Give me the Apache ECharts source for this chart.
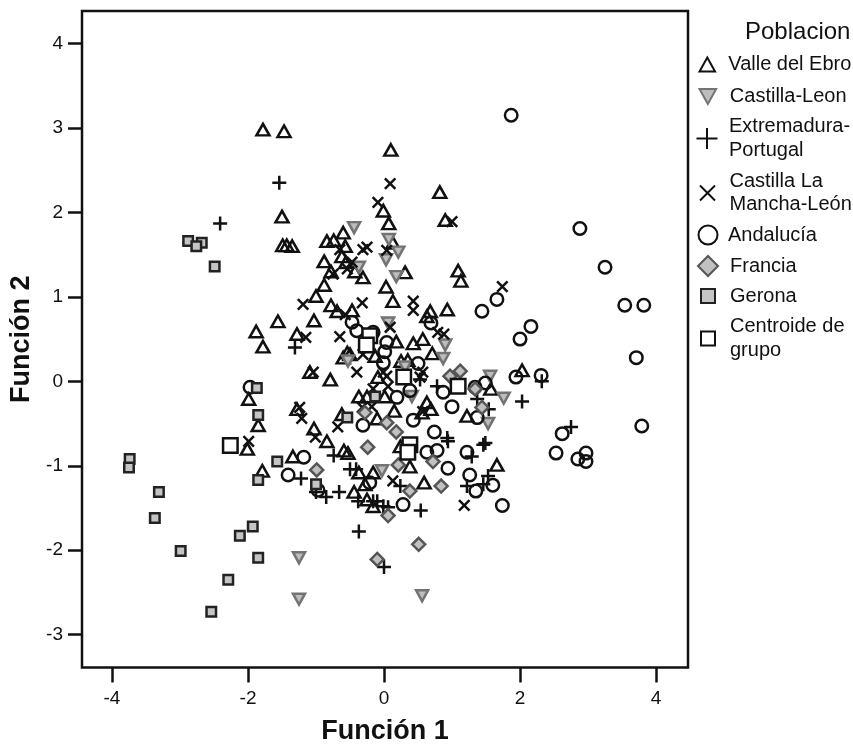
<!DOCTYPE html>
<html><head><meta charset="utf-8">
<style>html,body{margin:0;padding:0;background:#fff}#c{width:853px;height:746px}</style>
<script src="https://cdn.jsdelivr.net/npm/echarts@6/dist/echarts.min.js"></script>
</head><body><div id="c"></div>
<script>
const xTicks=[-4,-2,0,2,4];
const yTicks=[-3,-2,-1,0,1,2,3,4];
const valle=[[-1.78,2.98],[-1.47,2.96],[0.10,2.74],[0.82,2.24],[0.90,1.91],[-1.50,1.95],[-1.49,1.61],[-1.35,1.60],[-1.43,1.61],[-0.60,1.76],[-0.84,1.66],[-0.74,1.67],[-0.57,1.60],[-0.62,1.48],[-0.88,1.42],[-0.78,1.30],[-0.56,1.41],[-0.43,1.30],[-0.31,1.23],[-0.88,1.14],[-1.00,1.01],[-0.78,0.90],[-0.69,0.83],[-0.47,0.84],[-1.56,0.71],[-1.03,0.72],[-1.88,0.59],[-1.78,0.41],[-1.28,0.56],[-0.60,0.28],[-0.50,0.32],[-0.54,0.34],[-1.09,0.11],[-0.79,0.02],[-0.01,2.02],[0.07,1.87],[0.13,1.64],[0.31,1.29],[0.03,1.12],[0.13,0.95],[1.09,1.31],[1.13,1.19],[0.68,0.83],[0.63,0.77],[0.93,0.85],[0.18,0.47],[0.43,0.45],[0.57,0.50],[0.71,0.33],[-0.13,0.30],[0.25,0.24],[0.35,0.25],[-0.09,0.05],[-0.37,-0.18],[1.57,-0.09],[-1.99,-0.21],[-1.85,-0.52],[-2.01,-0.80],[-0.25,-0.18],[0.01,-0.18],[-0.62,-0.39],[-0.10,-0.44],[0.15,-0.35],[0.63,-0.25],[0.69,-0.33],[0.56,-0.37],[1.22,-0.41],[-1.28,-0.33],[-1.03,-0.56],[-0.84,-0.71],[-1.34,-0.89],[-1.79,-1.06],[-0.59,-0.82],[-0.53,-0.85],[-0.37,-1.08],[-0.16,-1.08],[-0.28,-1.22],[-0.44,-1.31],[-0.25,-1.40],[-0.16,-1.48],[0.38,-1.01],[0.24,-0.77],[0.59,-1.20],[1.66,-0.99],[2.03,0.13]];
const castillaLeon=[[-0.44,1.82],[0.07,1.68],[0.21,1.53],[0.03,1.44],[0.18,1.24],[-0.37,1.35],[0.06,0.69],[0.90,0.43],[0.87,0.27],[1.56,0.06],[1.76,-0.20],[0.31,0.17],[1.53,-0.50],[0.41,-0.18],[-0.03,-1.06],[-1.25,-2.09],[-1.25,-2.58],[0.56,-2.54],[-0.53,0.24]];
const extremadura=[[-2.41,1.87],[-1.54,2.35],[-1.31,0.40],[0.78,-0.06],[0.53,0.02],[1.37,-0.21],[1.54,-0.33],[0.93,-0.67],[0.94,-0.71],[1.46,-0.75],[1.49,-0.73],[1.29,-0.89],[1.22,-1.24],[1.53,-1.12],[1.46,-1.22],[-1.22,-1.15],[-0.74,-0.88],[-0.50,-1.04],[-0.41,-1.04],[-1.00,-1.31],[-0.85,-1.37],[-0.66,-1.31],[-0.38,-1.42],[-0.16,-1.42],[-0.10,-1.42],[-0.01,-1.48],[0.06,-1.49],[0.24,-1.24],[0.54,-1.53],[-0.37,-1.78],[0.00,-2.20],[2.03,-0.24],[2.75,-0.54],[2.32,0.00]];
const mancha=[[0.09,2.34],[-0.09,2.12],[1.00,1.89],[1.74,1.12],[-1.19,0.91],[-0.32,0.93],[0.43,0.95],[0.43,0.84],[-0.57,0.79],[0.09,0.64],[-1.15,0.52],[-0.65,0.53],[0.79,0.58],[0.88,0.56],[-0.31,0.32],[-1.04,0.11],[-0.40,0.11],[-0.25,1.59],[-0.31,1.56],[0.04,1.55],[-0.65,1.56],[-0.47,1.41],[-0.54,1.33],[-0.75,1.27],[0.57,0.11],[0.53,0.05],[-0.01,0.11],[0.04,0.06],[0.06,-0.06],[-0.16,-0.09],[-1.24,-0.31],[-1.21,-0.44],[-0.68,-0.54],[-1.01,-0.66],[-0.32,-0.31],[-0.18,-0.30],[0.57,-0.36],[0.13,-1.18],[1.18,-1.47],[-1.99,-0.71]];
const andalucia=[[1.87,3.15],[2.88,1.81],[3.25,1.35],[3.54,0.90],[3.82,0.90],[3.71,0.28],[3.79,-0.53],[2.16,0.65],[2.00,0.50],[1.44,0.83],[1.66,0.97],[1.94,0.05],[2.31,0.07],[2.62,-0.62],[2.53,-0.85],[2.85,-0.92],[2.97,-0.85],[2.97,-0.95],[-0.47,0.70],[-0.40,0.60],[-0.16,0.58],[0.04,0.46],[0.01,0.35],[-0.01,0.22],[0.50,0.21],[0.69,0.69],[0.38,-0.11],[0.19,-0.19],[0.87,-0.13],[1.49,-0.02],[1.34,-0.07],[-1.97,-0.07],[-1.18,-0.90],[-1.41,-1.11],[-0.97,-1.29],[-0.31,-0.52],[1.00,-0.30],[0.43,-0.46],[0.74,-0.60],[1.37,-0.43],[0.78,-0.82],[0.63,-0.84],[1.22,-0.84],[0.94,-1.03],[1.26,-1.11],[1.35,-1.30],[1.60,-1.23],[1.74,-1.47],[0.28,-1.46],[-0.21,-1.20]];
const francia=[[0.97,0.06],[1.12,0.12],[1.34,-0.09],[1.44,-0.31],[-0.28,-0.37],[0.04,-0.49],[0.18,-0.60],[-0.24,-0.78],[0.72,-0.95],[0.21,-0.99],[-0.99,-1.05],[0.38,-1.30],[0.84,-1.24],[0.06,-1.59],[0.51,-1.93],[-0.10,-2.11]];
const gerona=[[-2.88,1.66],[-2.68,1.64],[-2.76,1.60],[-2.49,1.36],[-1.87,-0.08],[-1.85,-0.40],[-3.74,-0.92],[-3.75,-1.02],[-3.31,-1.31],[-3.37,-1.62],[-2.99,-2.01],[-1.93,-1.72],[-2.12,-1.83],[-1.85,-2.09],[-2.29,-2.35],[-2.54,-2.73],[-1.57,-0.95],[-1.85,-1.17],[-0.54,-0.43],[-1.00,-1.22],[-0.13,-0.18]];
const centroides=[[-0.21,0.54],[-0.26,0.43],[0.29,0.05],[1.09,-0.06],[0.38,-0.75],[0.35,-0.84],[-2.26,-0.76]];

const FONT='Liberation Sans';
const PLUS='path://M10,0L10,20M0,10L20,10';
const CROSS='path://M0,0L20,20M0,20L20,0';
const DOWN='path://M0,0L20,0L10,18Z';
const UP='path://M10,0L20,18L0,18Z';
const DIAMOND='path://M10,0L20,10L10,20L0,10Z';
const NONE='rgba(0,0,0,0)';
const groups=[
 {name:'Valle del Ebro',data:valle,symbol:UP,size:[13,11.5],fill:NONE,stroke:'#111',bw:2.5,cy:64.5,lsize:[17,14],textLeft:728},
 {name:'Castilla-Leon',data:castillaLeon,symbol:DOWN,size:[12,11],fill:'#bdbdbd',stroke:'#737373',bw:2.5,cy:96.5,lsize:[17,15],textLeft:729},
 {name:'Extremadura-\nPortugal',data:extremadura,symbol:PLUS,size:[14,14],fill:NONE,stroke:'#111',bw:2.5,cy:138.5,lsize:[23,21],textLeft:729},
 {name:'Castilla La\nMancha-León',data:mancha,symbol:CROSS,size:[10.5,10.5],fill:NONE,stroke:'#111',bw:2.5,cy:193,lsize:[16,15],textLeft:729},
 {name:'Andalucía',data:andalucia,symbol:'circle',size:[12.5,12.5],fill:NONE,stroke:'#111',bw:2.5,cy:235,lsize:[19,19],textLeft:727},
 {name:'Francia',data:francia,symbol:DIAMOND,size:[13,13],fill:'#c0c0c0',stroke:'#555',bw:2.5,cy:266,lsize:[20,20],textLeft:729},
 {name:'Gerona',data:gerona,symbol:'rect',size:[9.5,9.5],fill:'#c4c4c4',stroke:'#222',bw:2.5,cy:296,lsize:[14,14],textLeft:729},
 {name:'Centroide de\ngrupo',data:centroides,symbol:'rect',size:[14.5,14.5],fill:'#fff',stroke:'#111',bw:2.5,cy:338.5,lsize:[14,14],textLeft:729}
];
const LEGEND_X=707, LINE=23.5;
const chart=echarts.init(document.getElementById('c'),null,{renderer:'canvas'});
chart.setOption({
 animation:false,
 backgroundColor:'#fff',
 grid:{left:82,right:165,top:11,bottom:78.5,show:true,borderColor:'#111',borderWidth:2.5,backgroundColor:'#fff',outerBoundsMode:'none'},
 title:{text:'Poblacion',left:745,top:20,padding:0,textStyle:{fontFamily:FONT,fontSize:24,fontWeight:'normal',color:'#111'}},
 legend:groups.map(g=>{
   const lines=g.name.split('\n').length;
   return {data:[{name:g.name,icon:g.symbol}],left:LEGEND_X-g.lsize[0]/2,top:g.cy-lines*LINE/2,orient:'vertical',
   itemWidth:g.lsize[0],itemHeight:g.lsize[1],itemGap:0,padding:0,selectedMode:false,
   textStyle:{fontFamily:FONT,fontSize:20,color:'#111',lineHeight:LINE,padding:[0,0,0,g.textLeft-(LEGEND_X+g.lsize[0]/2)-5]}};
 }),
 xAxis:{type:'value',min:-4.441,max:4.47,name:'Función 1',nameLocation:'middle',nameGap:51,
   nameTextStyle:{fontFamily:FONT,fontSize:27,fontWeight:'bold',color:'#111'},
   axisLine:{show:false,onZero:false},splitLine:{show:false},
   axisTick:{show:true,length:15,lineStyle:{color:'#111',width:2.5},customValues:xTicks},
   axisLabel:{fontFamily:FONT,fontSize:19,color:'#111',margin:22,customValues:xTicks,formatter:v=>String(v)}},
 yAxis:{type:'value',min:-3.389,max:4.385,name:'Función 2',nameLocation:'middle',nameGap:46,
   nameTextStyle:{fontFamily:FONT,fontSize:27,fontWeight:'bold',color:'#111'},
   axisLine:{show:false,onZero:false},splitLine:{show:false},
   axisTick:{show:true,length:14,lineStyle:{color:'#111',width:2.5},customValues:yTicks},
   axisLabel:{fontFamily:FONT,fontSize:19,color:'#111',margin:19,customValues:yTicks,formatter:v=>String(v)}},
 series:groups.map(g=>({type:'scatter',name:g.name,data:g.data,symbol:g.symbol,symbolSize:g.size,
   itemStyle:{color:g.fill,borderColor:g.stroke,borderWidth:g.bw,opacity:1},
   emphasis:{disabled:true},silent:true}))
});
</script></body></html>
